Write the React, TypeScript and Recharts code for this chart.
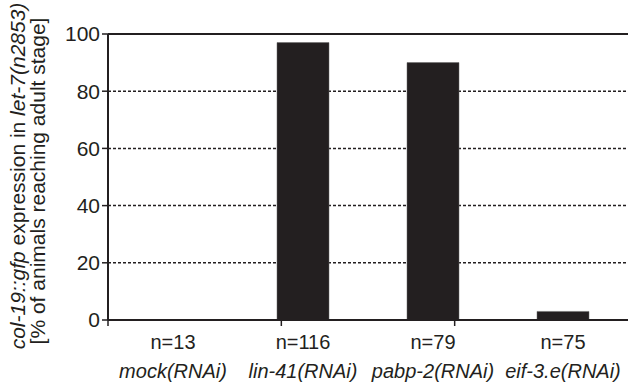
import { BarChart, Bar, XAxis, YAxis, CartesianGrid, ReferenceLine } from 'recharts';

const CATEGORIES = ['mock(RNAi)', 'lin-41(RNAi)', 'pabp-2(RNAi)', 'eif-3.e(RNAi)'];
const COUNTS = ['n=13', 'n=116', 'n=79', 'n=75'];
const PERCENT_ADULT = [0, 97, 90, 3];
const Y_TICKS = [0, 20, 40, 60, 80, 100];
const EDGE_TICKS = [0, 1, 2, 3, 4];

const INK = '#231f20';
const FONT = '"Liberation Sans", Arial, sans-serif';

const data = CATEGORIES.map((name, i) => ({
  name,
  count: COUNTS[i],
  value: PERCENT_ADULT[i],
}));

// two-line category label: n= count, then italic RNAi name
function CategoryTick(props: any) {
  const { x, y, payload, index } = props;
  return (
    <g>
      <text x={x} y={y + 20} textAnchor="middle" fontSize={20} fontFamily={FONT} fill={INK}>
        {COUNTS[index]}
      </text>
      <text x={x} y={y + 49} textAnchor="middle" fontSize={20} fontStyle="italic" fontFamily={FONT} fill={INK}>
        {payload.value}
      </text>
    </g>
  );
}

function YTitle(props: any) {
  const { viewBox } = props;
  const mid = viewBox.y + viewBox.height / 2;
  const cy1 = mid - 1;
  const cy2 = mid + 4;
  const x1 = 25;
  const x2 = 45;
  return (
    <g fontFamily={FONT} fontSize={21} fill={INK}>
      <text x={x1} y={cy1} textAnchor="middle" transform={`rotate(-90 ${x1} ${cy1})`}>
        <tspan fontStyle="italic">col-19::gfp</tspan>
        <tspan> expression in </tspan>
        <tspan fontStyle="italic">let-7(n2853)</tspan>
      </text>
      <text x={x2} y={cy2} textAnchor="middle" transform={`rotate(-90 ${x2} ${cy2})`}>
        [% of animals reaching adult stage]
      </text>
    </g>
  );
}

export default function App() {
  return (
    <div style={{ position: 'absolute', left: 0, top: 0, background: '#fff' }}>
      <BarChart
        width={630}
        height={385}
        data={data}
        margin={{ top: 34, right: 2, bottom: 0, left: 0 }}
        barCategoryGap="30%"
      >
        <CartesianGrid vertical={false} stroke={INK} strokeWidth={1.5} strokeDasharray="3 2" />
        {/* frame line with tick marks between categories */}
        <XAxis
          type="number"
          domain={[0, 4]}
          ticks={EDGE_TICKS}
          tick={() => <g />}
          height={1}
          axisLine={{ stroke: INK, strokeWidth: 2 }}
          tickLine={{ stroke: INK, strokeWidth: 1.5 }}
          tickSize={6}
        />
        <XAxis
          xAxisId="cat"
          dataKey="name"
          height={64}
          tickLine={false}
          axisLine={false}
          tick={<CategoryTick />}
          interval={0}
        />
        <YAxis
          domain={[0, 100]}
          ticks={Y_TICKS}
          width={108}
          axisLine={{ stroke: INK, strokeWidth: 2 }}
          tickLine={{ stroke: INK, strokeWidth: 1.5 }}
          tickSize={6}
          tick={{ fontSize: 21, fill: INK, fontFamily: FONT }}
          label={{ content: <YTitle /> }}
        />
        <YAxis
          yAxisId="right"
          orientation="right"
          domain={[0, 100]}
          width={0}
          tick={false}
          tickLine={false}
          axisLine={{ stroke: INK, strokeWidth: 2 }}
        />
        <ReferenceLine y={100} stroke={INK} strokeWidth={2} />
        <Bar xAxisId="cat" dataKey="value" fill={INK} stroke="#666" strokeWidth={0.5} isAnimationActive={false} />
      </BarChart>
    </div>
  );
}
